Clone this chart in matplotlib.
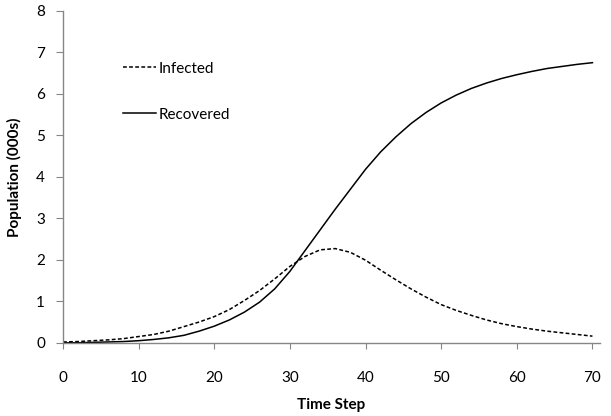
import matplotlib
matplotlib.use("Agg")
import matplotlib.pyplot as plt

plt.rcParams['font.family'] = ['Lato', 'DejaVu Sans']

time_steps = [0, 2, 4, 6, 8, 10, 12, 14, 16, 18, 20, 22, 24, 26, 28, 30, 32, 34,
              36, 38, 40, 42, 44, 46, 48, 50, 52, 54, 56, 58, 60, 62, 64, 66, 68, 70]
infected = [0.02, 0.03, 0.05, 0.07, 0.10, 0.15, 0.20, 0.28, 0.39, 0.50, 0.63, 0.80,
            1.02, 1.26, 1.54, 1.84, 2.08, 2.24, 2.27, 2.18, 1.99, 1.75, 1.52, 1.30,
            1.10, 0.92, 0.78, 0.66, 0.55, 0.46, 0.39, 0.33, 0.28, 0.24, 0.20, 0.16]
recovered = [0.00, 0.00, 0.01, 0.02, 0.03, 0.05, 0.08, 0.12, 0.18, 0.28, 0.40, 0.55,
             0.74, 0.98, 1.30, 1.72, 2.22, 2.72, 3.22, 3.70, 4.18, 4.60, 4.96, 5.28,
             5.55, 5.78, 5.97, 6.13, 6.26, 6.37, 6.46, 6.54, 6.61, 6.66, 6.71, 6.75]
x_ticks = [0, 10, 20, 30, 40, 50, 60, 70]
y_ticks = [0, 1, 2, 3, 4, 5, 6, 7, 8]

fig = plt.figure(figsize=(6.11, 4.16), dpi=100)
ax = fig.add_axes([0.103, 0.176, 0.879, 0.798])

ax.plot(time_steps, infected, color='black', lw=1.1, linestyle=(0, (2.5, 1.5)), label='Infected')
ax.plot(time_steps, recovered, color='black', lw=1.1, label='Recovered')

ax.set_xlim(0, 71)
ax.set_ylim(0, 8)
ax.set_xticks(x_ticks)
ax.set_yticks(y_ticks)

for s in ['top', 'right']:
    ax.spines[s].set_visible(False)
for s in ['left', 'bottom']:
    ax.spines[s].set_color('#868686')
    ax.spines[s].set_linewidth(1.0)

ax.tick_params(axis='x', direction='out', length=4, color='#868686', pad=16, labelsize=11)
ax.tick_params(axis='y', direction='out', length=5, color='#868686', pad=8, labelsize=11)

ax.set_xlabel('Time Step', fontsize=11, fontweight='bold', labelpad=10)
ax.set_ylabel('Population (000s)', fontsize=11, fontweight='bold', labelpad=10)

leg = ax.legend(loc='upper left', bbox_to_anchor=(0.1, 0.865), frameon=False,
                fontsize=11, handlelength=2.2, handletextpad=0.15, labelspacing=2.1,
                borderaxespad=0)

fig.savefig('out.png', dpi=100)
